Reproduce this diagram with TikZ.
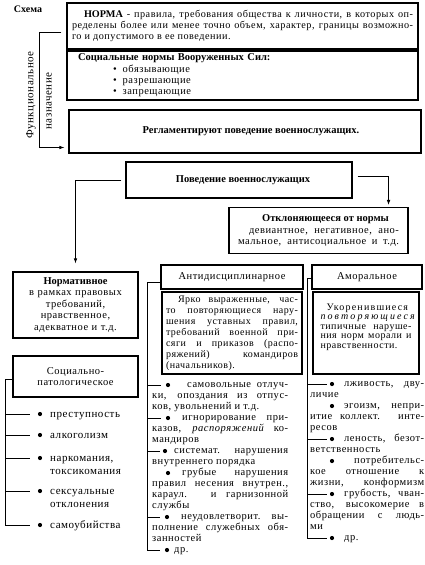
\documentclass[tikz,border=0pt]{standalone}
\usepackage{fontspec}
\setmainfont{Liberation Serif}[LetterSpace=5, BoldFeatures={LetterSpace=0}]
\usetikzlibrary{arrows.meta,calc,positioning}

\newcommand{\jl}[1]{\makebox[\linewidth][s]{#1}}

\begin{document}
\begin{tikzpicture}[
  x=1pt,
  y=-1pt,
  >={Latex[length=5pt,width=3.6pt]},
  box/.style={draw, line width=1.1pt, inner sep=0pt, font=\fontsize{10.5}{11.5}\selectfont},
  desc/.style={box, align=justify, font=\fontsize{10}{11}\selectfont},
  itm/.style={anchor=base west, inner sep=0pt, align=justify, font=\fontsize{10.5}{11}\selectfont},
  lst/.style={anchor=base west, inner sep=0pt, align=left, text width=85pt, font=\fontsize{11}{13}\selectfont},
  dot/.style={circle, fill, inner sep=0pt, minimum size=4.2pt},
  rel/.style={line width=0.8pt}
]
  \useasboundingbox (0,0) rectangle (425,565);

  \node[font=\bfseries\fontsize{10}{12}\selectfont] (schema) at (28,9) {Схема};

  \node[box, minimum width=351pt, minimum height=46pt, text width=341pt, align=justify, font=\fontsize{10.2}{11}\selectfont] (norma) at (242.5,26)
    {\jl{\hspace*{12pt}\textbf{НОРМА} - правила, требования общества к личности, в которых оп-}\\
     \jl{ределены более или менее точно объем, характер, границы возможно-}\\
     го и допустимого в ее поведении.};
  \node[box, minimum width=351pt, minimum height=49pt, text width=329pt, align=left, font=\fontsize{10.5}{11.3}\selectfont] (soc) at (242.5,75.5)
    {\textbf{Социальные нормы Вооруженных Сил:}\\
     \hspace*{35pt}\textbullet\hspace{6pt}обязывающие\\
     \hspace*{35pt}\textbullet\hspace{6pt}разрешающие\\
     \hspace*{35pt}\textbullet\hspace{6pt}запрещающие};
  \node[box, minimum width=352pt, minimum height=43pt, font=\bfseries\fontsize{10.5}{12}\selectfont] (regl) at (245,131.5) {\hspace{12pt}Регламентируют поведение военнослужащих.};

  \node[rotate=90, font=\fontsize{11}{13}\selectfont] (func) at (31,95) {Функциональное};
  \node[rotate=90, font=\fontsize{11}{13}\selectfont] (purp) at (49,101) {назначение};
  \draw[rel, ->, shorten >=4pt] ([shift={(-5pt,-6pt)}]norma.west) -- ++(-22,0) |- ([yshift=-16pt]regl.west);

  \node[box, minimum width=226pt, minimum height=36pt, font=\bfseries\fontsize{10.5}{12}\selectfont] (beh) at (239,180) {\hspace{8pt}Поведение военнослужащих};
  \node[box, minimum width=179pt, minimum height=46pt, text width=161pt, align=justify] (dev) at (318.5,230.5)
    {\makebox[\linewidth]{\hspace{14pt}\textbf{Отклоняющееся от нормы}}\\[0.5pt]
     \jl{\hspace*{11pt}девиантное, негативное, ано-}\\
     \jl{мальное, антисоциальное и т.д.}};

  \node[box, minimum width=125pt, minimum height=66pt, text width=120pt, align=center] (normat) at (75.5,305)
    {\textbf{Нормативное}\\в рамках правовых\\требований,\\нравственное,\\адекватное и т.д.};
  \node[box, minimum width=125pt, minimum height=41pt, text width=120pt, align=center] (socpat) at (75.5,376.5) {Социально-\\патологическое};

  \node[box, minimum width=142pt, minimum height=24pt] (adtitle) at (232,277) {Антидисциплинарное};
  \node[desc, minimum width=140pt, minimum height=82pt, text width=132pt] (addesc) at (232,333)
    {\jl{\hspace*{12pt}Ярко выраженные, час-}\\
     \jl{то повторяющиеся нару-}\\
     \jl{шения уставных правил,}\\
     \jl{требований военной при-}\\
     \jl{сяги и приказов (распо-}\\
     \jl{ряжений) командиров}\\
     (начальников).};

  \node[box, minimum width=110pt, minimum height=24pt] (amtitle) at (367,277) {Аморальное\hspace{14pt}};
  \node[desc, minimum width=106pt, text width=91pt, text height=18pt, text depth=64pt, font=\fontsize{10}{9.6}\selectfont] (amdesc) at (366,333)
    {\hspace*{6pt}{\addfontfeature{LetterSpace=12}Укоренившиеся}\\
     {\itshape\addfontfeature{LetterSpace=21}повторяющиеся}\\
     \jl{типичные наруше-}\\
     \jl{ния норм морали и}\\
     нравственности.};

  \draw[rel, ->, shorten <=4pt, shorten >=8pt] (beh.west) -| (normat.north);
  \draw[rel, ->, shorten <=5pt, shorten >=2pt] ([yshift=4pt]beh.east) -| ([xshift=-20pt]dev.north east);

  \node[dot] (ls1b) at (40,414) {};
  \node[dot] (ls2b) at (40,435) {};
  \node[dot] (ls3b) at (40,458) {};
  \node[dot] (ls4b) at (40,491) {};
  \node[dot] (ls5b) at (40,525) {};
  \node[lst] (ls1) at (50,417) {преступность};
  \node[lst] (ls2) at (50,438) {алкоголизм};
  \node[lst] (ls3) at (50,461) {наркомания,\\токсикомания};
  \node[lst] (ls4) at (50,494) {сексуальные\\отклонения};
  \node[lst] (ls5) at (50,528) {самоубийства};
  \coordinate (lsp) at (5,379);
  \draw[rel, shorten >=8pt] ([yshift=-2.5pt]socpat.west) -| (lsp |- ls5b) -- (ls5b);
  \draw[rel, shorten >=8pt] (lsp |- ls1b) -- (ls1b);
  \draw[rel, shorten >=8pt] (lsp |- ls2b) -- (ls2b);
  \draw[rel, shorten >=8pt] (lsp |- ls3b) -- (ls3b);
  \draw[rel, shorten >=8pt] (lsp |- ls4b) -- (ls4b);

  \node[dot] (ad1b) at (168,385) {};
  \node[dot] (ad2b) at (168,418) {};
  \node[dot] (ad3b) at (165,451) {};
  \node[dot] (ad4b) at (168,473) {};
  \node[dot] (ad5b) at (167,517) {};
  \node[dot] (ad6b) at (167,550) {};
  \node[itm, text width=136pt] (ad1) at (152,387.5)
    {\jl{\hspace*{35pt}самовольные отлуч-}\\\jl{ки, опоздания из отпус-}\\ков, увольнений и т.д.};
  \node[itm, text width=136pt] (ad2) at (152,420.5)
    {\jl{\hspace*{30pt}игнорирование при-}\\\jl{казов, \textit{распоряжений} ко-}\\мандиров};
  \node[itm, text width=136pt] (ad3) at (152,453.5)
    {\jl{\hspace*{22pt}системат. нарушения}\\внутреннего порядка};
  \node[itm, text width=136pt] (ad4) at (152,475.5)
    {\jl{\hspace*{30pt}грубые нарушения}\\\jl{правил несения внутрен.,}\\\jl{караул. и гарнизонной}\\службы};
  \node[itm, text width=136pt] (ad5) at (152,519.5)
    {\jl{\hspace*{29pt}неудовлетворит. вы-}\\\jl{полнение служебных обя-}\\занностей};
  \node[itm, text width=136pt] (ad6) at (152,552.5) {\hspace*{22pt}др.};
  \coordinate (adsp) at (147,282);
  \draw[rel, shorten >=5pt] ([yshift=-5pt]adtitle.west) -| (adsp |- ad6b) -- (ad6b);
  \draw[rel, shorten >=5pt] (adsp |- ad1b) -- (ad1b);
  \draw[rel, shorten >=5pt] (adsp |- ad2b) -- (ad2b);
  \draw[rel, shorten >=3pt] (adsp |- ad3b) -- (ad3b);
  \draw[rel, shorten >=5pt] (adsp |- ad5b) -- (ad5b);

  \node[dot] (am1b) at (332,384) {};
  \node[dot] (am2b) at (332,406) {};
  \node[dot] (am3b) at (332,439) {};
  \node[dot] (am4b) at (332,461) {};
  \node[dot] (am5b) at (332,494) {};
  \node[dot] (am6b) at (332,538) {};
  \node[itm, text width=114pt] (am1) at (310,386.5) {\jl{\hspace*{34pt}лживость, дву-}\\личие};
  \node[itm, text width=114pt] (am2) at (310,408.5) {\jl{\hspace*{34pt}эгоизм, непри-}\\\jl{итие коллект. инте-}\\ресов};
  \node[itm, text width=114pt] (am3) at (310,441.5) {\jl{\hspace*{34pt}леность, безот-}\\ветственность};
  \node[itm, text width=114pt] (am4) at (310,463.5) {\makebox[\linewidth][r]{потребительс-}\\\jl{кое отношение к}\\\jl{жизни, конформизм}};
  \node[itm, text width=114pt] (am5) at (310,496.5) {\jl{\hspace*{34pt}грубость, чван-}\\\jl{ство, высокомерие в}\\\jl{обращении с людь-}\\ми};
  \node[itm, text width=114pt] (am6) at (310,540.5) {\hspace*{34pt}др.};
  \coordinate (amsp) at (307,278);
  \draw[rel, shorten >=3pt] ([yshift=-1pt]amtitle.west) -| (amsp |- am6b) -- (am6b);
  \draw[rel, shorten >=3pt] (amsp |- am1b) -- (am1b);
  \draw[rel, shorten >=3pt] (amsp |- am3b) -- (am3b);
  \draw[rel, shorten >=3pt] (amsp |- am5b) -- (am5b);
\end{tikzpicture}
\end{document}
